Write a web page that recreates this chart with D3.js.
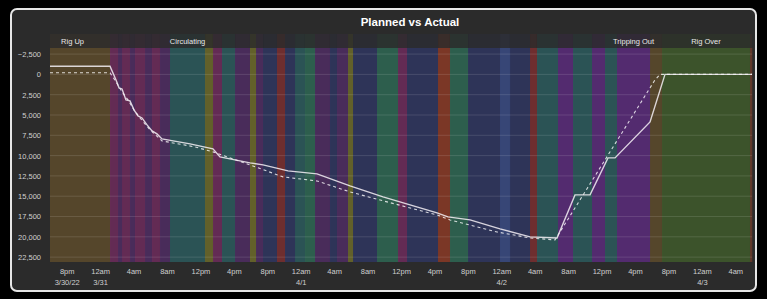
<!DOCTYPE html>
<html><head><meta charset="utf-8">
<script src="https://cdn.jsdelivr.net/npm/d3@7"></script>
<style>html,body{margin:0;padding:0;background:#000;}svg{display:block;}</style>
</head><body>
<svg id="c" width="767" height="299"></svg>
<script>
// ---- data ----
const startTime = new Date(2022, 2, 30, 18, 0); // 3/30/22 6pm
const endTime = new Date(2022, 3, 3, 6, 0);
// activity bands: elapsed hours (edges) and activity codes
const bandEdges = [0, 7.18, 8.14, 8.62, 9.57, 10.17, 11.37, 12.2, 13.16, 14.36, 18.55, 19.5, 20.58, 22.14, 23.93, 24.65, 25.49, 27.16, 28.12, 29.32, 30.51, 31.71, 33.5, 34.34, 35.66, 36.26, 39.13, 41.64, 42.72, 46.43, 47.86, 50.02, 53.85, 55.04, 57.44, 58.27, 60.79, 62.58, 64.86, 66.41, 67.85, 71.8, 73.23, 83.76, 84];
const bandActivity = ["A","M","P","M","P","M","P","M","P","T","Y","M","T","P","Y","P","N","R","N","T","G","P","N","P","Y","N","G","M","N","O","G","N","B","N","R","T","V","T","V","T","V","A","L","W"];
const phaseNames = ["Rig Up", "Circulating", "Tripping Out", "Rig Over"];
const phaseStart = [0, 14.36, 67.85, 73.23];
const phaseEnd = [5.4, 18.55, 71.8, 83.76];
// Actual depth (elapsed hours, ft)
const actualHours = [0, 7.18, 7.90, 8.26, 8.62, 9.09, 9.57, 10.05, 10.53, 11.01, 11.61, 12.21, 12.80, 13.40, 16.75, 19.50, 20.34, 23.93, 25.49, 28.48, 31.95, 35.90, 39.85, 43.08, 46.31, 47.62, 50.26, 53.85, 57.44, 60.67, 62.82, 64.62, 66.77, 67.61, 71.80, 73.59, 84];
const actualDepth = [-1000, -1000, 700, 1660, 1790, 3140, 3260, 4370, 5110, 5360, 6220, 6960, 7330, 7940, 8560, 9170, 10160, 10900, 11140, 11880, 12250, 13730, 15090, 16070, 17060, 17550, 17920, 19030, 20010, 20140, 14840, 14840, 10280, 10280, 5850, 0, 0];
// Planned depth
const plannedHours = [0, 7.18, 7.90, 8.62, 9.33, 10.05, 10.77, 11.97, 13.40, 17.35, 19.50, 23.93, 27.88, 31.95, 35.90, 40.33, 46.31, 47.86, 53.49, 57.44, 60.43, 72.39, 72.99, 84];
const plannedDepth = [-200, -200, 920, 2160, 3140, 4370, 5360, 6830, 8190, 8930, 9540, 11140, 12620, 13120, 14470, 15700, 17300, 17920, 19400, 20140, 20380, 680, 0, 0];
const yTicks = [-2500, 0, 2500, 5000, 7500, 10000, 12500, 15000, 17500, 20000, 22500];
const title = "Planned vs Actual";

// ---- styles ----
const activityColor = {A:"#5d4b2c", M:"#6d2c5c", P:"#4f2d63", T:"#2b5b5d", Y:"#6c6a2a", N:"#2f3660",
  R:"#7a2f30", O:"#8a3a26", G:"#2e6753", B:"#3a4b84", V:"#5a2b7b", L:"#3f5b2b", W:"#6a3a2a"};
const font = "Liberation Sans, Arial, sans-serif";

const toDate = h => new Date(startTime.getTime() + h * 3600e3);
const svg = d3.select("#c");
const M = {l: 50, r: 752, t: 48, b: 262};

svg.append("rect").attr("x", 11).attr("y", 9).attr("width", 745).attr("height", 282)
  .attr("rx", 6).attr("fill", "#2b2b2b").attr("stroke", "#e6e6e6").attr("stroke-width", 2);

const x = d3.scaleTime().domain([startTime, endTime]).range([M.l, M.r]);
const y = d3.scaleLinear().domain([-3250, 23100]).range([M.t, M.b]);

// bands
const bands = bandActivity.map((a, i) => ({a, s: bandEdges[i], e: bandEdges[i + 1]}));
svg.append("g").selectAll("rect").data(bands).join("rect")
  .attr("x", d => x(toDate(d.s))).attr("width", d => x(toDate(d.e)) - x(toDate(d.s)) + 0.3)
  .attr("y", M.t).attr("height", M.b - M.t).attr("fill", d => activityColor[d.a]).attr("opacity", 0.85);
// faint band tint in label row
svg.append("g").selectAll("rect").data(bands).join("rect")
  .attr("x", d => x(toDate(d.s))).attr("width", d => x(toDate(d.e)) - x(toDate(d.s)))
  .attr("y", 34).attr("height", M.t - 34).attr("fill", d => activityColor[d.a]).attr("opacity", 0.15);

// gridlines
svg.append("g").selectAll("line").data(yTicks).join("line")
  .attr("x1", M.l).attr("x2", M.r).attr("y1", d => y(d)).attr("y2", d => y(d))
  .attr("stroke", "#ffffff").attr("stroke-opacity", 0.12).attr("stroke-width", 1);

// y axis
const fmt = d3.format(",");
const yAxis = d3.axisLeft(y).tickValues(yTicks).tickSize(0).tickPadding(8).tickFormat(d => fmt(d));
const gy = svg.append("g").attr("transform", `translate(${M.l - 1},0)`).call(yAxis);
gy.select(".domain").remove();
gy.selectAll("text").attr("fill", "#d0d0d0").attr("font-size", 7.5).attr("font-family", font);

// x axis
const xTickVals = d3.timeHour.range(toDate(2), toDate(84), 4);
const hourFmt = d => { const h = d.getHours(); const hh = h % 12 === 0 ? 12 : h % 12; return hh + (h < 12 ? "am" : "pm"); };
const dateFmt = (d, i) => i === 0 ? d3.timeFormat("%-m/%-d/%y")(d) : (d.getHours() === 0 ? d3.timeFormat("%-m/%-d")(d) : "");
const xAxis = d3.axisBottom(x).tickValues(xTickVals).tickSize(0).tickPadding(7).tickFormat(hourFmt);
const gx = svg.append("g").attr("transform", `translate(0,${M.b})`).call(xAxis);
gx.select(".domain").remove();
gx.selectAll("text").attr("fill", "#d0d0d0").attr("font-size", 7.5).attr("font-family", font);
gx.selectAll(".tick").append("text").attr("y", 18).attr("dy", "0.71em").attr("text-anchor", "middle")
  .attr("fill", "#d0d0d0").attr("font-size", 7.5).attr("font-family", font)
  .text((d, i) => dateFmt(d, i));

// phase labels
svg.append("g").selectAll("text").data(phaseNames).join("text")
  .attr("x", (d, i) => (x(toDate(phaseStart[i])) + x(toDate(phaseEnd[i]))) / 2).attr("y", 44)
  .attr("text-anchor", "middle").attr("fill", "#e8e8e8").attr("font-size", 7.5)
  .attr("font-family", font).text(d => d);

// title
svg.append("text").attr("x", 410).attr("y", 26).attr("text-anchor", "middle")
  .attr("fill", "#ffffff").attr("font-weight", "bold").attr("font-size", 11.5)
  .attr("font-family", font).text(title);

// lines
const line = d3.line().x(d => x(toDate(d[0]))).y(d => y(d[1]));
svg.append("path").datum(plannedHours.map((h, i) => [h, plannedDepth[i]])).attr("d", line)
  .attr("fill", "none").attr("stroke", "#ffffff").attr("stroke-opacity", 0.8).attr("stroke-width", 1.1)
  .attr("stroke-dasharray", "3,3");
svg.append("path").datum(actualHours.map((h, i) => [h, actualDepth[i]])).attr("d", line)
  .attr("fill", "none").attr("stroke", "#f4f0f4").attr("stroke-opacity", 0.85).attr("stroke-width", 1.4);
</script>
</body></html>
